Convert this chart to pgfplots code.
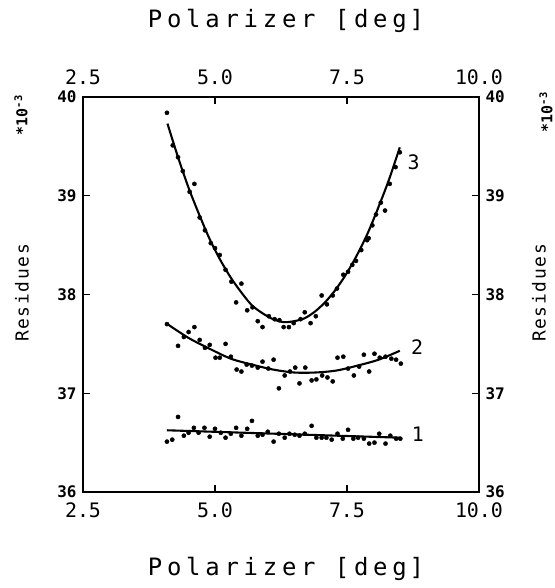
\documentclass[border=0pt]{standalone}
\usepackage{fontspec}
\setmainfont{DejaVu Sans Mono}
\newfontfamily\titlefont{DejaVu Sans Mono}[LetterSpace=20]
\newfontfamily\labfont{DejaVu Sans Mono}[LetterSpace=9]
\usepackage{pgfplots}
\usepackage{pgfplotstable}
\pgfplotsset{compat=1.18}

\pgfplotstableread{
x y
4.09 39.84
4.20 39.51
4.30 39.39
4.39 39.25
4.52 39.04
4.61 39.12
4.71 38.78
4.81 38.65
4.92 38.52
5.00 38.47
5.09 38.40
5.20 38.25
5.31 38.13
5.40 37.92
5.50 38.11
5.61 37.84
5.71 37.87
5.81 37.73
5.90 37.67
6.02 37.78
6.13 37.75
6.22 37.74
6.30 37.67
6.40 37.67
6.49 37.71
6.62 37.75
6.70 37.82
6.81 37.71
6.91 37.78
7.02 37.99
7.12 37.90
7.23 37.99
7.31 38.06
7.43 38.20
7.52 38.23
7.60 38.30
7.67 38.34
7.77 38.45
7.88 38.55
7.91 38.57
7.98 38.70
8.05 38.81
8.14 38.93
8.22 38.85
8.31 39.12
8.42 39.29
8.50 39.44
}\seriesthree

\pgfplotstableread{
x y
4.09 37.70
4.30 37.48
4.41 37.57
4.50 37.62
4.61 37.67
4.71 37.54
4.81 37.46
4.90 37.49
5.01 37.36
5.09 37.36
5.20 37.50
5.30 37.37
5.41 37.24
5.50 37.22
5.60 37.29
5.70 37.28
5.81 37.26
5.90 37.32
6.01 37.25
6.11 37.34
6.21 37.05
6.32 37.18
6.42 37.22
6.52 37.26
6.60 37.10
6.71 37.26
6.83 37.13
6.92 37.14
7.03 37.18
7.13 37.16
7.23 37.12
7.32 37.36
7.43 37.37
7.52 37.25
7.63 37.18
7.73 37.27
7.82 37.39
7.92 37.22
8.02 37.40
8.12 37.36
8.23 37.37
8.34 37.35
8.43 37.34
8.52 37.30
}\seriestwo

\pgfplotstableread{
x y
4.09 36.51
4.19 36.53
4.30 36.76
4.41 36.57
4.50 36.60
4.60 36.65
4.69 36.60
4.80 36.65
4.90 36.56
5.00 36.64
5.11 36.60
5.20 36.55
5.30 36.59
5.40 36.65
5.50 36.57
5.61 36.64
5.70 36.72
5.81 36.57
5.90 36.58
6.00 36.61
6.11 36.51
6.21 36.59
6.32 36.55
6.41 36.59
6.51 36.58
6.60 36.57
6.70 36.59
6.83 36.67
6.92 36.55
7.02 36.55
7.11 36.55
7.21 36.53
7.32 36.59
7.42 36.54
7.52 36.63
7.62 36.54
7.71 36.55
7.82 36.54
7.92 36.49
8.02 36.50
8.11 36.59
8.23 36.49
8.32 36.57
8.43 36.54
8.51 36.54
}\seriesone

\pgfplotstableread{
x y
4.10 39.73
4.30 39.39
4.50 39.08
4.70 38.81
4.90 38.56
5.10 38.35
5.30 38.17
5.50 38.02
5.70 37.89
5.90 37.81
6.10 37.75
6.30 37.72
6.50 37.73
6.70 37.76
6.90 37.83
7.10 37.93
7.30 38.06
7.50 38.22
7.70 38.41
7.90 38.63
8.10 38.89
8.30 39.17
8.50 39.49
}\fitthree

\pgfplotstableread{
x y
4.10 37.70
4.50 37.56
4.90 37.45
5.30 37.35
5.70 37.29
6.10 37.24
6.50 37.21
6.90 37.21
7.30 37.23
7.70 37.28
8.10 37.34
8.50 37.43
}\fittwo

\pgfplotstableread{
x y
4.09 36.625
8.50 36.550
}\fitone

\begin{document}
\begin{tikzpicture}
\begin{axis}[name=ax, at={(0,0)}, anchor=south west, scale only axis,
  width=396bp, height=395bp,
  xmin=2.5, xmax=10, ymin=36, ymax=40,
  xtick={2.5,5,7.5,10}, ytick={36,37,38,39,40},
  xticklabels={2.5,5.0,7.5,10.0},
  yticklabels={36,37,38,39,40},
  /pgf/number format/assume math mode=true,
  tick align=inside, major tick length=7bp,
  every tick/.style={black, line width=1.4pt},
  axis line style={line width=1.9pt},
  tick pos=both,
  xticklabel style={font=\fontsize{20}{22}\selectfont, yshift=-7bp},
  yticklabel style={font=\fontsize{16}{18}\selectfont\bfseries, xshift=-3bp},
  clip=false,
]
\addplot[only marks, mark=*, mark size=2.1bp, black] table {\seriesthree};
\addplot[only marks, mark=*, mark size=2.1bp, black] table {\seriestwo};
\addplot[only marks, mark=*, mark size=2.1bp, black] table {\seriesone};
\addplot[smooth, line width=2.1pt, black] table {\fitthree};
\addplot[smooth, line width=2.1pt, black] table {\fittwo};
\addplot[line width=2.1pt, black] table {\fitone};
\node[font=\fontsize{20}{22}\selectfont] at (axis cs:8.76,39.34) {3};
\node[font=\fontsize{20}{22}\selectfont] at (axis cs:8.83,37.47) {2};
\node[font=\fontsize{20}{22}\selectfont] at (axis cs:8.84,36.58) {1};
\end{axis}
\begin{axis}[at={(0,0)}, anchor=south west, scale only axis,
  width=396bp, height=395bp,
  xmin=2.5, xmax=10, ymin=36, ymax=40,
  xtick={2.5,5,7.5,10}, ytick={36,37,38,39,40},
  xticklabels={2.5,5.0,7.5,10.0},
  yticklabels={36,37,38,39,40},
  /pgf/number format/assume math mode=true,
  major tick length=0pt,
  axis line style={draw=none},
  xticklabel pos=upper, yticklabel pos=right,
  xticklabel style={font=\fontsize{20}{22}\selectfont, yshift=9bp},
  yticklabel style={font=\fontsize{16}{18}\selectfont\bfseries, xshift=3bp},
]
\end{axis}
\node[font=\titlefont\fontsize{24}{28}\selectfont, anchor=base] at (203bp,464bp) {Polarizer [deg\kern3pt]};
\node[font=\titlefont\fontsize{24}{28}\selectfont, anchor=base] at (203bp,-83bp) {Polarizer [deg\kern3pt]};
\node[font=\labfont\fontsize{18}{20}\selectfont, rotate=90] at (-61bp,199bp) {Residues};
\node[font=\labfont\fontsize{18}{20}\selectfont, rotate=90] at (456bp,199bp) {Residues};
\node[font=\fontsize{15}{17}\selectfont\bfseries, rotate=90] at (-62bp,377bp) {*10\textsuperscript{-3}};
\node[font=\fontsize{15}{17}\selectfont\bfseries, rotate=90] at (463bp,380bp) {*10\textsuperscript{-3}};
\pgfresetboundingbox
\path (-83bp,-96bp) rectangle (472bp,492bp);
\end{tikzpicture}
\end{document}
